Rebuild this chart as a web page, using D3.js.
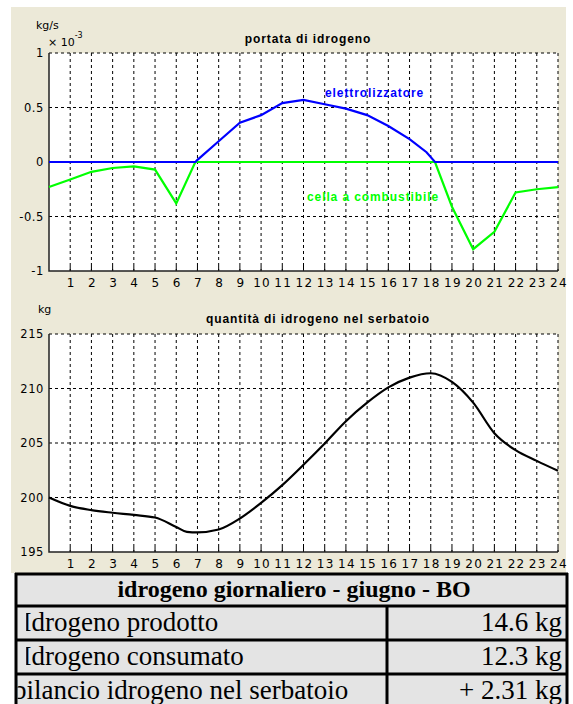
<!DOCTYPE html>
<html>
<head>
<meta charset="utf-8">
<script src="https://cdn.jsdelivr.net/npm/d3@7"></script>
<style>
  body { margin: 0; background: #fff; }
  svg { display: block; }
</style>
</head>
<body>
<div id="chart"></div>
<script>
// hourly flows (x 10^-3 kg/s)
var flowHours = [0, 1, 2, 3, 4, 5, 6, 6.9, 7, 8, 9, 10, 11, 12, 13, 14, 15, 16, 17, 17.8, 18.2, 19, 20, 21, 22, 23, 24];
var electrolyzer = [0, 0, 0, 0, 0, 0, 0, 0, 0.02, 0.19, 0.36, 0.43, 0.54, 0.57, 0.53, 0.49, 0.43, 0.33, 0.21, 0.09, 0, 0, 0, 0, 0, 0, 0];
var fuelCell = [-0.23, -0.16, -0.09, -0.055, -0.04, -0.07, -0.38, 0, 0, 0, 0, 0, 0, 0, 0, 0, 0, 0, 0, 0, 0, -0.41, -0.80, -0.64, -0.28, -0.25, -0.23];

// hydrogen in the tank (kg)
var tankHours = [0, 1, 2, 3, 4, 5, 6, 6.5, 7, 8, 9, 10, 11, 12, 13, 14, 15, 16, 17, 18, 19, 20, 21, 22, 23, 24];
var tankKg = [200.0, 199.23, 198.84, 198.6, 198.4, 198.16, 197.3, 196.85, 196.8, 197.06, 198.07, 199.5, 201.13, 203.0, 204.95, 207.0, 208.7, 210.1, 211.0, 211.4, 210.6, 208.7, 205.9, 204.34, 203.36, 202.45];

var hourTicks = d3.range(1, 25);
var flowTicks = [-1, -0.5, 0, 0.5, 1];
var tankTicks = [195, 200, 205, 210, 215];

var tableTitle = "idrogeno giornaliero - giugno - BO";
var tableRows = [
    ["Idrogeno prodotto", "14.6 kg"],
    ["Idrogeno consumato", "12.3 kg"],
    ["bilancio idrogeno nel serbatoio", "+ 2.31 kg"]
];

var svgWidth = 573;
var svgHeight = 704;

var svg = d3.select("#chart")
    .append("svg")
    .attr("width", svgWidth)
    .attr("height", svgHeight);

var defs = svg.append("defs");

// beige figure background
svg.append("rect")
    .attr("x", 11).attr("y", 7)
    .attr("width", 555).attr("height", 566)
    .attr("fill", "#ece9d8");

var plotLeft = 49, plotRight = 558;

var xScale = d3.scaleLinear().domain([0, 24]).range([plotLeft, plotRight]);

function drawPanel(top, bottom, domain, ticks, tickFmt) {
    var y = d3.scaleLinear().domain(domain).range([bottom, top]);
    var g = svg.append("g");

    g.append("rect")
        .attr("x", plotLeft).attr("y", top)
        .attr("width", plotRight - plotLeft).attr("height", bottom - top)
        .attr("fill", "#fff");

    // dashed grid
    g.selectAll(".vgrid")
        .data(hourTicks)
        .enter()
        .append("line")
        .attr("x1", d => xScale(d)).attr("x2", d => xScale(d))
        .attr("y1", top).attr("y2", bottom)
        .attr("stroke", "#000")
        .attr("stroke-width", 1)
        .attr("stroke-dasharray", "3,3");

    g.selectAll(".hgrid")
        .data(ticks.slice(1))
        .enter()
        .append("line")
        .attr("x1", plotLeft).attr("x2", plotRight)
        .attr("y1", d => y(d)).attr("y2", d => y(d))
        .attr("stroke", "#000")
        .attr("stroke-width", 1)
        .attr("stroke-dasharray", "3,3");

    // inward ticks on the bottom axis
    g.selectAll(".tick")
        .data(hourTicks)
        .enter()
        .append("line")
        .attr("x1", d => xScale(d)).attr("x2", d => xScale(d))
        .attr("y1", bottom).attr("y2", bottom - 5)
        .attr("stroke", "#000");

    // solid left + bottom axes
    g.append("path")
        .attr("d", `M${plotLeft},${top}V${bottom}H${plotRight}`)
        .attr("fill", "none")
        .attr("stroke", "#222")
        .attr("stroke-width", 1.5);

    g.selectAll(".ylab")
        .data(ticks)
        .enter()
        .append("text")
        .attr("x", 44)
        .attr("y", d => y(d) + 4)
        .attr("text-anchor", "end")
        .style("font-family", "DejaVu Sans")
        .style("font-size", "11.5px")
        .style("letter-spacing", "0.6px")
        .text(tickFmt);

    g.selectAll(".xlab")
        .data(hourTicks)
        .enter()
        .append("text")
        .attr("x", d => xScale(d) + 1)
        .attr("y", bottom + 16)
        .attr("text-anchor", "middle")
        .style("font-family", "DejaVu Sans")
        .style("font-size", "12px")
        .style("letter-spacing", "1.3px")
        .text(d => d);

    return y;
}

function boldLabel(x, y, txt, color, anchor) {
    return svg.append("text")
        .attr("x", x).attr("y", y)
        .attr("fill", color)
        .attr("text-anchor", anchor)
        .style("font-family", "Liberation Sans")
        .style("font-weight", "bold")
        .style("font-size", "12px")
        .style("letter-spacing", "0.9px")
        .text(txt);
}

// ---- top panel: portata di idrogeno
var yFlow = drawPanel(53, 271, [-1, 1], flowTicks, d => d);

var flowLine = d3.line()
    .x(d => xScale(d[0]))
    .y(d => yFlow(d[1]));

svg.append("path")
    .datum(d3.zip(flowHours, fuelCell))
    .attr("d", flowLine)
    .attr("fill", "none")
    .attr("stroke", "#00ff00")
    .attr("stroke-width", 2.2);

svg.append("path")
    .datum(d3.zip(flowHours, electrolyzer))
    .attr("d", flowLine)
    .attr("fill", "none")
    .attr("stroke", "#0000ff")
    .attr("stroke-width", 2.2);

boldLabel(308, 43, "portata di idrogeno", "#000", "middle");

svg.append("text")
    .attr("x", 36).attr("y", 29)
    .style("font-family", "DejaVu Sans")
    .style("font-size", "11px")
    .text("kg/s");

var exp = svg.append("text")
    .attr("x", 48).attr("y", 46)
    .style("font-family", "DejaVu Sans")
    .style("font-size", "11px");
exp.append("tspan").text("\u00d7 10");
exp.append("tspan").attr("dy", -8).style("font-size", "8px").text("-3");

boldLabel(325, 97, "elettrolizzatore", "#0000ff", "start");
boldLabel(307, 201, "cella a combustibile", "#00ff00", "start");

// ---- bottom panel: quantità di idrogeno nel serbatoio
var yTank = drawPanel(334, 552, [195, 215], tankTicks, d => d);

var tankLine = d3.line()
    .curve(d3.curveMonotoneX)
    .x(d => xScale(d[0]))
    .y(d => yTank(d[1]));

svg.append("path")
    .datum(d3.zip(tankHours, tankKg))
    .attr("d", tankLine)
    .attr("fill", "none")
    .attr("stroke", "#000")
    .attr("stroke-width", 2.2);

boldLabel(318, 323, "quantità di idrogeno nel serbatoio", "#000", "middle");

svg.append("text")
    .attr("x", 38).attr("y", 313)
    .style("font-family", "DejaVu Sans")
    .style("font-size", "11px")
    .text("kg");

// ---- summary table
var tLeft = 15, tRight = 568, tSplit = 387;
var rowTops = [573, 605, 639, 673, 707];

svg.append("rect")
    .attr("x", tLeft).attr("y", rowTops[0])
    .attr("width", tRight - tLeft).attr("height", svgHeight - rowTops[0] + 5)
    .attr("fill", "#e4e4e4");

svg.append("text")
    .attr("x", 294).attr("y", 597)
    .attr("text-anchor", "middle")
    .style("font-family", "Liberation Serif")
    .style("font-weight", "bold")
    .style("font-size", "24px")
    .text(tableTitle);

// clip edges per row (the first letters are cut off in the original)
var clipX = [26.2, 26.2, 17.5];
var textX = [22.5, 22.5, 13];

tableRows.forEach(function(row, i) {
    var clipId = "rowclip" + i;
    defs.append("clipPath")
        .attr("id", clipId)
        .attr("clipPathUnits", "userSpaceOnUse")
        .append("rect")
        .attr("x", clipX[i]).attr("y", rowTops[i + 1])
        .attr("width", tSplit - clipX[i]).attr("height", rowTops[i + 2] - rowTops[i + 1]);

    svg.append("g")
        .attr("clip-path", `url(#${clipId})`)
        .append("text")
        .attr("x", textX[i])
        .attr("y", rowTops[i + 1] + 26)
        .style("font-family", "Liberation Serif")
        .style("font-size", "27px")
        .text(row[0]);

    svg.append("text")
        .attr("x", 562)
        .attr("y", rowTops[i + 1] + 26)
        .attr("text-anchor", "end")
        .style("font-family", "Liberation Serif")
        .style("font-size", "27px")
        .text(row[1]);
});

// table borders
var borders = svg.append("g")
    .attr("stroke", "#000")
    .attr("stroke-width", 3)
    .attr("fill", "none");

borders.selectAll(".hb")
    .data(rowTops.slice(0, 4))
    .enter()
    .append("line")
    .attr("x1", tLeft).attr("x2", tRight)
    .attr("y1", d => d + 1).attr("y2", d => d + 1);

borders.append("line")
    .attr("x1", tLeft + 1).attr("x2", tLeft + 1)
    .attr("y1", rowTops[0]).attr("y2", svgHeight);

borders.append("line")
    .attr("x1", tRight - 1).attr("x2", tRight - 1)
    .attr("y1", rowTops[0]).attr("y2", svgHeight);

borders.append("line")
    .attr("x1", tSplit).attr("x2", tSplit)
    .attr("y1", rowTops[1]).attr("y2", svgHeight);
</script>
</body>
</html>
